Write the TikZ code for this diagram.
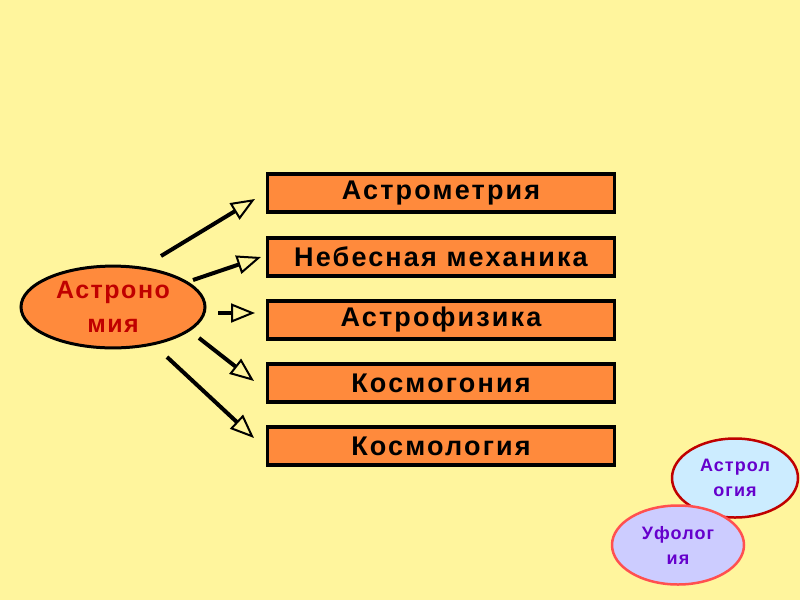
\documentclass[tikz,border=0pt]{standalone}
\usepackage{fontspec}
\setmainfont{Liberation Sans}
\newfontfamily\widesans[LetterSpace=8]{Liberation Sans}
\newfontfamily\ovalsans[LetterSpace=6]{Liberation Sans}
\usetikzlibrary{arrows.meta,shapes.geometric}
\definecolor{bgyellow}{HTML}{FFF59D}
\definecolor{boxorange}{HTML}{FF8A3C}
\definecolor{darkred}{HTML}{C00000}
\definecolor{lightblue}{HTML}{CCECFF}
\definecolor{lavender}{HTML}{CCCCFF}
\definecolor{pinkred}{HTML}{FF5050}
\definecolor{violet}{HTML}{6600CC}
\tikzset{
  branch/.style={draw,line width=3.5pt,fill=boxorange,minimum width=347pt,minimum height=38pt,
    font=\widesans\fontsize{27}{28}\selectfont\bfseries},
  bigoval/.style={ellipse,draw,line width=3pt,fill=boxorange,minimum width=184pt,minimum height=78pt,
    align=center,text=darkred,font=\ovalsans\fontsize{25}{34}\selectfont\bfseries},
  smalloval/.style={ellipse,line width=2.5pt,minimum width=126pt,minimum height=79pt,
    align=center,text=violet,font=\ovalsans\fontsize{18}{25}\selectfont\bfseries},
  ray/.style={line width=4pt,-{Triangle[length=24pt,width=19pt,fill=bgyellow,line width=2pt]}}
}
\begin{document}
\begin{tikzpicture}[x=1pt,y=-1pt]

\fill[bgyellow] (0,0) rectangle (800,600);
\useasboundingbox (0,0) rectangle (800,600);

\node[bigoval] (astr) at (113,307) {Астроно\\мия};

\node[branch] (1) at (441,193) {Астрометрия};
\node[branch] (2) at (441,257) {Небесная механика};
\node[branch] (3) at (441,320) {Астрофизика};
\node[branch] (4) at (441,383) {Космогония};
\node[branch] (5) at (441,446) {Космология};

\node[smalloval,draw=darkred,fill=lightblue] (astrol) at (735,478) {Астрол\\огия};
\node[smalloval,draw=pinkred,fill=lavender,minimum width=132pt] (ufo) at (678,545) {Уфолог\\ия};

\coordinate (s1) at (161,256); \coordinate (e1) at (255,199);
\coordinate (s2) at (193,280); \coordinate (e2) at (261,257);
\coordinate (s3) at (218,313); \coordinate (e3) at (255,313);
\coordinate (s4) at (199,338); \coordinate (e4) at (254,381);
\coordinate (s5) at (167,357); \coordinate (e5) at (254,438);

\draw[ray] (s1) -- (e1);
\draw[ray] (s2) -- (e2);
\draw[ray] (s3) -- (e3);
\draw[ray] (s4) -- (e4);
\draw[ray] (s5) -- (e5);

\end{tikzpicture}
\end{document}
